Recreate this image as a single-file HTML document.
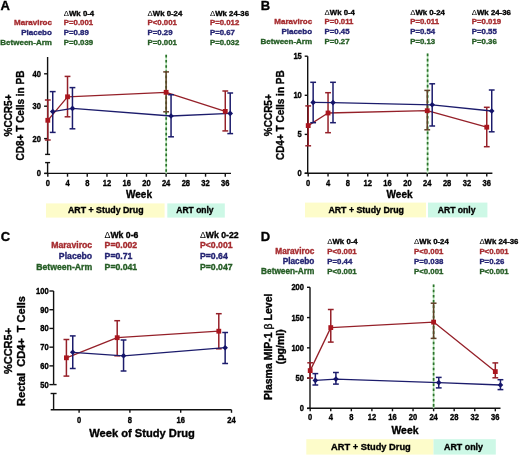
<!DOCTYPE html>
<html><head><meta charset="utf-8"><style>
html,body{margin:0;padding:0;background:#fff;}
svg{display:block;font-family:"Liberation Sans", sans-serif;will-change:transform;}
text{stroke-width:0.35px;paint-order:stroke;}
</style></head><body>
<svg width="520" height="456" viewBox="0 0 520 456">
<rect width="520" height="456" fill="#fff"/>
<text x="0.6" y="10.4" font-size="13" fill="#000" stroke="#000" text-anchor="start" font-weight="bold" >A</text>
<text x="51.9" y="25.4" font-size="8" fill="#a52a2e" stroke="#a52a2e" text-anchor="end" font-weight="bold" >Maraviroc</text>
<text x="51.9" y="35.2" font-size="8" fill="#232372" stroke="#232372" text-anchor="end" font-weight="bold" >Placebo</text>
<text x="51.9" y="44.9" font-size="8" fill="#245c24" stroke="#245c24" text-anchor="end" font-weight="bold" >Between-Arm</text>
<text x="63.8" y="16.3" font-size="7.8" font-weight="bold" fill="#000" stroke="#000"><tspan font-weight="normal" stroke-width="0">&#916;</tspan>Wk 0-4</text>
<text x="63.8" y="25.4" font-size="7.8" fill="#a52a2e" stroke="#a52a2e" text-anchor="start" font-weight="bold" >P=0.001</text>
<text x="63.8" y="35.2" font-size="7.8" fill="#232372" stroke="#232372" text-anchor="start" font-weight="bold" >P=0.89</text>
<text x="63.8" y="44.9" font-size="7.8" fill="#245c24" stroke="#245c24" text-anchor="start" font-weight="bold" >P=0.039</text>
<text x="147.6" y="16.3" font-size="7.8" font-weight="bold" fill="#000" stroke="#000"><tspan font-weight="normal" stroke-width="0">&#916;</tspan>Wk 0-24</text>
<text x="147.6" y="25.4" font-size="7.8" fill="#a52a2e" stroke="#a52a2e" text-anchor="start" font-weight="bold" >P&lt;0.001</text>
<text x="147.6" y="35.2" font-size="7.8" fill="#232372" stroke="#232372" text-anchor="start" font-weight="bold" >P=0.29</text>
<text x="147.6" y="44.9" font-size="7.8" fill="#245c24" stroke="#245c24" text-anchor="start" font-weight="bold" >P=0.001</text>
<text x="210.0" y="16.3" font-size="7.8" font-weight="bold" fill="#000" stroke="#000"><tspan font-weight="normal" stroke-width="0">&#916;</tspan>Wk 24-36</text>
<text x="210.0" y="25.4" font-size="7.8" fill="#a52a2e" stroke="#a52a2e" text-anchor="start" font-weight="bold" >P=0.012</text>
<text x="210.0" y="35.2" font-size="7.8" fill="#232372" stroke="#232372" text-anchor="start" font-weight="bold" >P=0.67</text>
<text x="210.0" y="44.9" font-size="7.8" fill="#245c24" stroke="#245c24" text-anchor="start" font-weight="bold" >P=0.032</text>
<line x1="47.6" y1="57" x2="47.6" y2="154.4" stroke="#111" stroke-width="1.4" />
<line x1="45.1" y1="154.4" x2="50.1" y2="154.4" stroke="#111" stroke-width="1.4" />
<line x1="45.1" y1="162.6" x2="50.1" y2="162.6" stroke="#111" stroke-width="1.4" />
<line x1="47.6" y1="162.6" x2="47.6" y2="173.4" stroke="#111" stroke-width="1.4" />
<line x1="44.1" y1="73.8" x2="47.6" y2="73.8" stroke="#111" stroke-width="1.4" />
<text transform="translate(41.00,76.82) scale(0.9,1)" font-size="8.4" fill="#000" stroke="#000" text-anchor="end" font-weight="bold">40</text>
<line x1="44.1" y1="106.2" x2="47.6" y2="106.2" stroke="#111" stroke-width="1.4" />
<text transform="translate(41.00,109.22) scale(0.9,1)" font-size="8.4" fill="#000" stroke="#000" text-anchor="end" font-weight="bold">30</text>
<line x1="44.1" y1="138.6" x2="47.6" y2="138.6" stroke="#111" stroke-width="1.4" />
<text transform="translate(41.00,141.62) scale(0.9,1)" font-size="8.4" fill="#000" stroke="#000" text-anchor="end" font-weight="bold">20</text>
<line x1="44.1" y1="173.4" x2="47.6" y2="173.4" stroke="#111" stroke-width="1.4" />
<text transform="translate(41.00,176.42) scale(0.9,1)" font-size="8.4" fill="#000" stroke="#000" text-anchor="end" font-weight="bold">0</text>
<line x1="44.6" y1="173.4" x2="231" y2="173.4" stroke="#111" stroke-width="1.4" />
<line x1="47.8" y1="173.4" x2="47.8" y2="176.70000000000002" stroke="#111" stroke-width="1.4" />
<text transform="translate(47.80,185.70) scale(0.9,1)" font-size="8.4" fill="#000" stroke="#000" text-anchor="middle" font-weight="bold">0</text>
<line x1="67.52" y1="173.4" x2="67.52" y2="176.70000000000002" stroke="#111" stroke-width="1.4" />
<text transform="translate(67.52,185.70) scale(0.9,1)" font-size="8.4" fill="#000" stroke="#000" text-anchor="middle" font-weight="bold">4</text>
<line x1="87.24" y1="173.4" x2="87.24" y2="176.70000000000002" stroke="#111" stroke-width="1.4" />
<text transform="translate(87.24,185.70) scale(0.9,1)" font-size="8.4" fill="#000" stroke="#000" text-anchor="middle" font-weight="bold">8</text>
<line x1="106.96" y1="173.4" x2="106.96" y2="176.70000000000002" stroke="#111" stroke-width="1.4" />
<text transform="translate(106.96,185.70) scale(0.9,1)" font-size="8.4" fill="#000" stroke="#000" text-anchor="middle" font-weight="bold">12</text>
<line x1="126.67999999999999" y1="173.4" x2="126.67999999999999" y2="176.70000000000002" stroke="#111" stroke-width="1.4" />
<text transform="translate(126.68,185.70) scale(0.9,1)" font-size="8.4" fill="#000" stroke="#000" text-anchor="middle" font-weight="bold">16</text>
<line x1="146.39999999999998" y1="173.4" x2="146.39999999999998" y2="176.70000000000002" stroke="#111" stroke-width="1.4" />
<text transform="translate(146.40,185.70) scale(0.9,1)" font-size="8.4" fill="#000" stroke="#000" text-anchor="middle" font-weight="bold">20</text>
<line x1="166.12" y1="173.4" x2="166.12" y2="176.70000000000002" stroke="#111" stroke-width="1.4" />
<text transform="translate(166.12,185.70) scale(0.9,1)" font-size="8.4" fill="#000" stroke="#000" text-anchor="middle" font-weight="bold">24</text>
<line x1="185.83999999999997" y1="173.4" x2="185.83999999999997" y2="176.70000000000002" stroke="#111" stroke-width="1.4" />
<text transform="translate(185.84,185.70) scale(0.9,1)" font-size="8.4" fill="#000" stroke="#000" text-anchor="middle" font-weight="bold">28</text>
<line x1="205.56" y1="173.4" x2="205.56" y2="176.70000000000002" stroke="#111" stroke-width="1.4" />
<text transform="translate(205.56,185.70) scale(0.9,1)" font-size="8.4" fill="#000" stroke="#000" text-anchor="middle" font-weight="bold">32</text>
<line x1="225.27999999999997" y1="173.4" x2="225.27999999999997" y2="176.70000000000002" stroke="#111" stroke-width="1.4" />
<text transform="translate(225.28,185.70) scale(0.9,1)" font-size="8.4" fill="#000" stroke="#000" text-anchor="middle" font-weight="bold">36</text>
<text x="126.0" y="198.1" font-size="10" fill="#000" stroke="#000" text-anchor="start" font-weight="bold" >Week</text>
<line x1="166.2" y1="54.8" x2="166.2" y2="173.4" stroke="#b4e4b4" stroke-width="1.6" />
<line x1="166.2" y1="54.8" x2="166.2" y2="173.4" stroke="#2a702a" stroke-width="1.7" stroke-dasharray="2.6 2.6"/>
<text transform="translate(11.8,115.5) rotate(-90)" x="0" y="0" font-size="10" font-weight="bold" text-anchor="middle" fill="#000" stroke="#000" xml:space="preserve">%CCR5+</text>
<text transform="translate(23.7,115.5) rotate(-90)" x="0" y="0" font-size="10" font-weight="bold" text-anchor="middle" fill="#000" stroke="#000" xml:space="preserve">CD8+ T Cells in PB</text>
<polyline points="47.80,120.30 67.52,96.80 166.12,92.30 225.28,111.40" fill="none" stroke="#952029" stroke-width="1.3" stroke-linejoin="round"/>
<line x1="47.8" y1="100" x2="47.8" y2="140" stroke="#952029" stroke-width="1.5" />
<line x1="44.9" y1="100" x2="50.699999999999996" y2="100" stroke="#952029" stroke-width="1.5" />
<line x1="44.9" y1="140" x2="50.699999999999996" y2="140" stroke="#952029" stroke-width="1.5" />
<line x1="67.52" y1="76.4" x2="67.52" y2="116.8" stroke="#952029" stroke-width="1.5" />
<line x1="64.61999999999999" y1="76.4" x2="70.42" y2="76.4" stroke="#952029" stroke-width="1.5" />
<line x1="64.61999999999999" y1="116.8" x2="70.42" y2="116.8" stroke="#952029" stroke-width="1.5" />
<line x1="166.12" y1="71.9" x2="166.12" y2="111.8" stroke="#624028" stroke-width="1.5" />
<line x1="163.22" y1="71.9" x2="169.02" y2="71.9" stroke="#624028" stroke-width="1.5" />
<line x1="163.22" y1="111.8" x2="169.02" y2="111.8" stroke="#624028" stroke-width="1.5" />
<line x1="225.27999999999997" y1="91" x2="225.27999999999997" y2="130.9" stroke="#952029" stroke-width="1.5" />
<line x1="222.37999999999997" y1="91" x2="228.17999999999998" y2="91" stroke="#952029" stroke-width="1.5" />
<line x1="222.37999999999997" y1="130.9" x2="228.17999999999998" y2="130.9" stroke="#952029" stroke-width="1.5" />
<polyline points="52.73,111.60 72.45,108.40 171.05,116.00 230.21,113.40" fill="none" stroke="#1c1c6c" stroke-width="1.3" stroke-linejoin="round"/>
<line x1="52.73" y1="91.6" x2="52.73" y2="132.4" stroke="#1c1c6c" stroke-width="1.5" />
<line x1="49.83" y1="91.6" x2="55.629999999999995" y2="91.6" stroke="#1c1c6c" stroke-width="1.5" />
<line x1="49.83" y1="132.4" x2="55.629999999999995" y2="132.4" stroke="#1c1c6c" stroke-width="1.5" />
<line x1="72.44999999999999" y1="87.6" x2="72.44999999999999" y2="128.8" stroke="#1c1c6c" stroke-width="1.5" />
<line x1="69.54999999999998" y1="87.6" x2="75.35" y2="87.6" stroke="#1c1c6c" stroke-width="1.5" />
<line x1="69.54999999999998" y1="128.8" x2="75.35" y2="128.8" stroke="#1c1c6c" stroke-width="1.5" />
<line x1="171.05" y1="94.7" x2="171.05" y2="136.8" stroke="#1c1c6c" stroke-width="1.5" />
<line x1="168.15" y1="94.7" x2="173.95000000000002" y2="94.7" stroke="#1c1c6c" stroke-width="1.5" />
<line x1="168.15" y1="136.8" x2="173.95000000000002" y2="136.8" stroke="#1c1c6c" stroke-width="1.5" />
<line x1="230.20999999999998" y1="93" x2="230.20999999999998" y2="133.6" stroke="#1c1c6c" stroke-width="1.5" />
<line x1="227.30999999999997" y1="93" x2="233.10999999999999" y2="93" stroke="#1c1c6c" stroke-width="1.5" />
<line x1="227.30999999999997" y1="133.6" x2="233.10999999999999" y2="133.6" stroke="#1c1c6c" stroke-width="1.5" />
<rect x="45.40" y="117.90" width="4.8" height="4.8" fill="#aa161e"/>
<rect x="65.12" y="94.40" width="4.8" height="4.8" fill="#aa161e"/>
<rect x="163.72" y="89.90" width="4.8" height="4.8" fill="#aa161e"/>
<rect x="222.88" y="109.00" width="4.8" height="4.8" fill="#aa161e"/>
<path d="M49.93,111.60 L52.73,108.80 L55.53,111.60 L52.73,114.40 Z" fill="#14146a"/>
<path d="M69.65,108.40 L72.45,105.60 L75.25,108.40 L72.45,111.20 Z" fill="#14146a"/>
<path d="M168.25,116.00 L171.05,113.20 L173.85,116.00 L171.05,118.80 Z" fill="#14146a"/>
<path d="M227.41,113.40 L230.21,110.60 L233.01,113.40 L230.21,116.20 Z" fill="#14146a"/>
<rect x="46.0" y="203.4" width="118.6" height="14.2" fill="#fdfcca"/>
<rect x="167.3" y="203.4" width="57.5" height="14.2" fill="#cdf8e6"/>
<text x="68.0" y="213.0" font-size="8.8" fill="#000" stroke="#000" text-anchor="start" font-weight="bold" >ART + Study Drug</text>
<text x="176.3" y="213.0" font-size="8.5" fill="#000" stroke="#000" text-anchor="start" font-weight="bold" >ART only</text>
<text x="260.8" y="10.3" font-size="13" fill="#000" stroke="#000" text-anchor="start" font-weight="bold" >B</text>
<text x="312.1" y="24.3" font-size="8" fill="#a52a2e" stroke="#a52a2e" text-anchor="end" font-weight="bold" >Maraviroc</text>
<text x="312.1" y="34.2" font-size="8" fill="#232372" stroke="#232372" text-anchor="end" font-weight="bold" >Placebo</text>
<text x="312.1" y="44.0" font-size="8" fill="#245c24" stroke="#245c24" text-anchor="end" font-weight="bold" >Between-Arm</text>
<text x="324.6" y="15.0" font-size="7.8" font-weight="bold" fill="#000" stroke="#000"><tspan font-weight="normal" stroke-width="0">&#916;</tspan>Wk 0-4</text>
<text x="324.6" y="24.3" font-size="7.8" fill="#a52a2e" stroke="#a52a2e" text-anchor="start" font-weight="bold" >P=0.011</text>
<text x="324.6" y="34.2" font-size="7.8" fill="#232372" stroke="#232372" text-anchor="start" font-weight="bold" >P=0.45</text>
<text x="324.6" y="44.0" font-size="7.8" fill="#245c24" stroke="#245c24" text-anchor="start" font-weight="bold" >P=0.27</text>
<text x="410.2" y="15.0" font-size="7.8" font-weight="bold" fill="#000" stroke="#000"><tspan font-weight="normal" stroke-width="0">&#916;</tspan>Wk 0-24</text>
<text x="410.2" y="24.3" font-size="7.8" fill="#a52a2e" stroke="#a52a2e" text-anchor="start" font-weight="bold" >P=0.011</text>
<text x="410.2" y="34.2" font-size="7.8" fill="#232372" stroke="#232372" text-anchor="start" font-weight="bold" >P=0.54</text>
<text x="410.2" y="44.0" font-size="7.8" fill="#245c24" stroke="#245c24" text-anchor="start" font-weight="bold" >P=0.13</text>
<text x="471.8" y="15.0" font-size="7.8" font-weight="bold" fill="#000" stroke="#000"><tspan font-weight="normal" stroke-width="0">&#916;</tspan>Wk 24-36</text>
<text x="471.8" y="24.3" font-size="7.8" fill="#a52a2e" stroke="#a52a2e" text-anchor="start" font-weight="bold" >P=0.019</text>
<text x="471.8" y="34.2" font-size="7.8" fill="#232372" stroke="#232372" text-anchor="start" font-weight="bold" >P=0.55</text>
<text x="471.8" y="44.0" font-size="7.8" fill="#245c24" stroke="#245c24" text-anchor="start" font-weight="bold" >P=0.36</text>
<line x1="307.7" y1="56.2" x2="307.7" y2="173.3" stroke="#111" stroke-width="1.4" />
<line x1="304.7" y1="56.2" x2="307.7" y2="56.2" stroke="#111" stroke-width="1.4" />
<text transform="translate(301.80,59.22) scale(0.9,1)" font-size="8.4" fill="#000" stroke="#000" text-anchor="end" font-weight="bold">15</text>
<line x1="304.7" y1="95.3" x2="307.7" y2="95.3" stroke="#111" stroke-width="1.4" />
<text transform="translate(301.80,98.32) scale(0.9,1)" font-size="8.4" fill="#000" stroke="#000" text-anchor="end" font-weight="bold">10</text>
<line x1="304.7" y1="134.4" x2="307.7" y2="134.4" stroke="#111" stroke-width="1.4" />
<text transform="translate(301.80,137.42) scale(0.9,1)" font-size="8.4" fill="#000" stroke="#000" text-anchor="end" font-weight="bold">5</text>
<line x1="304.7" y1="173.3" x2="307.7" y2="173.3" stroke="#111" stroke-width="1.4" />
<text transform="translate(301.80,176.32) scale(0.9,1)" font-size="8.4" fill="#000" stroke="#000" text-anchor="end" font-weight="bold">0</text>
<line x1="304.7" y1="173.3" x2="492.4" y2="173.3" stroke="#111" stroke-width="1.4" />
<line x1="308.2" y1="173.3" x2="308.2" y2="176.60000000000002" stroke="#111" stroke-width="1.4" />
<text transform="translate(308.20,185.70) scale(0.9,1)" font-size="8.4" fill="#000" stroke="#000" text-anchor="middle" font-weight="bold">0</text>
<line x1="328.03999999999996" y1="173.3" x2="328.03999999999996" y2="176.60000000000002" stroke="#111" stroke-width="1.4" />
<text transform="translate(328.04,185.70) scale(0.9,1)" font-size="8.4" fill="#000" stroke="#000" text-anchor="middle" font-weight="bold">4</text>
<line x1="347.88" y1="173.3" x2="347.88" y2="176.60000000000002" stroke="#111" stroke-width="1.4" />
<text transform="translate(347.88,185.70) scale(0.9,1)" font-size="8.4" fill="#000" stroke="#000" text-anchor="middle" font-weight="bold">8</text>
<line x1="367.71999999999997" y1="173.3" x2="367.71999999999997" y2="176.60000000000002" stroke="#111" stroke-width="1.4" />
<text transform="translate(367.72,185.70) scale(0.9,1)" font-size="8.4" fill="#000" stroke="#000" text-anchor="middle" font-weight="bold">12</text>
<line x1="387.56" y1="173.3" x2="387.56" y2="176.60000000000002" stroke="#111" stroke-width="1.4" />
<text transform="translate(387.56,185.70) scale(0.9,1)" font-size="8.4" fill="#000" stroke="#000" text-anchor="middle" font-weight="bold">16</text>
<line x1="407.4" y1="173.3" x2="407.4" y2="176.60000000000002" stroke="#111" stroke-width="1.4" />
<text transform="translate(407.40,185.70) scale(0.9,1)" font-size="8.4" fill="#000" stroke="#000" text-anchor="middle" font-weight="bold">20</text>
<line x1="427.24" y1="173.3" x2="427.24" y2="176.60000000000002" stroke="#111" stroke-width="1.4" />
<text transform="translate(427.24,185.70) scale(0.9,1)" font-size="8.4" fill="#000" stroke="#000" text-anchor="middle" font-weight="bold">24</text>
<line x1="447.08" y1="173.3" x2="447.08" y2="176.60000000000002" stroke="#111" stroke-width="1.4" />
<text transform="translate(447.08,185.70) scale(0.9,1)" font-size="8.4" fill="#000" stroke="#000" text-anchor="middle" font-weight="bold">28</text>
<line x1="466.91999999999996" y1="173.3" x2="466.91999999999996" y2="176.60000000000002" stroke="#111" stroke-width="1.4" />
<text transform="translate(466.92,185.70) scale(0.9,1)" font-size="8.4" fill="#000" stroke="#000" text-anchor="middle" font-weight="bold">32</text>
<line x1="486.76" y1="173.3" x2="486.76" y2="176.60000000000002" stroke="#111" stroke-width="1.4" />
<text transform="translate(486.76,185.70) scale(0.9,1)" font-size="8.4" fill="#000" stroke="#000" text-anchor="middle" font-weight="bold">36</text>
<text x="386.6" y="198.0" font-size="10" fill="#000" stroke="#000" text-anchor="start" font-weight="bold" >Week</text>
<line x1="427.6" y1="53.6" x2="427.6" y2="173.3" stroke="#b4e4b4" stroke-width="1.6" />
<line x1="427.6" y1="53.6" x2="427.6" y2="173.3" stroke="#2a702a" stroke-width="1.7" stroke-dasharray="2.6 2.6"/>
<text transform="translate(271.8,115.2) rotate(-90)" x="0" y="0" font-size="10" font-weight="bold" text-anchor="middle" fill="#000" stroke="#000" xml:space="preserve">%CCR5+</text>
<text transform="translate(283.5,115.2) rotate(-90)" x="0" y="0" font-size="10" font-weight="bold" text-anchor="middle" fill="#000" stroke="#000" xml:space="preserve">CD4+ T Cells in PB</text>
<polyline points="308.20,125.60 328.04,113.00 427.24,110.70 486.76,127.20" fill="none" stroke="#952029" stroke-width="1.3" stroke-linejoin="round"/>
<line x1="308.2" y1="105.9" x2="308.2" y2="145.8" stroke="#952029" stroke-width="1.5" />
<line x1="305.3" y1="105.9" x2="311.09999999999997" y2="105.9" stroke="#952029" stroke-width="1.5" />
<line x1="305.3" y1="145.8" x2="311.09999999999997" y2="145.8" stroke="#952029" stroke-width="1.5" />
<line x1="328.03999999999996" y1="92.7" x2="328.03999999999996" y2="132.7" stroke="#952029" stroke-width="1.5" />
<line x1="325.14" y1="92.7" x2="330.93999999999994" y2="92.7" stroke="#952029" stroke-width="1.5" />
<line x1="325.14" y1="132.7" x2="330.93999999999994" y2="132.7" stroke="#952029" stroke-width="1.5" />
<line x1="427.24" y1="90.4" x2="427.24" y2="129.8" stroke="#624028" stroke-width="1.5" />
<line x1="424.34000000000003" y1="90.4" x2="430.14" y2="90.4" stroke="#624028" stroke-width="1.5" />
<line x1="424.34000000000003" y1="129.8" x2="430.14" y2="129.8" stroke="#624028" stroke-width="1.5" />
<line x1="486.76" y1="107.3" x2="486.76" y2="146.7" stroke="#952029" stroke-width="1.5" />
<line x1="483.86" y1="107.3" x2="489.65999999999997" y2="107.3" stroke="#952029" stroke-width="1.5" />
<line x1="483.86" y1="146.7" x2="489.65999999999997" y2="146.7" stroke="#952029" stroke-width="1.5" />
<polyline points="313.16,102.40 333.00,102.60 432.20,104.80 491.72,111.00" fill="none" stroke="#1c1c6c" stroke-width="1.3" stroke-linejoin="round"/>
<line x1="313.15999999999997" y1="82.3" x2="313.15999999999997" y2="122.7" stroke="#1c1c6c" stroke-width="1.5" />
<line x1="310.26" y1="82.3" x2="316.05999999999995" y2="82.3" stroke="#1c1c6c" stroke-width="1.5" />
<line x1="310.26" y1="122.7" x2="316.05999999999995" y2="122.7" stroke="#1c1c6c" stroke-width="1.5" />
<line x1="333.0" y1="82.3" x2="333.0" y2="122.7" stroke="#1c1c6c" stroke-width="1.5" />
<line x1="330.1" y1="82.3" x2="335.9" y2="82.3" stroke="#1c1c6c" stroke-width="1.5" />
<line x1="330.1" y1="122.7" x2="335.9" y2="122.7" stroke="#1c1c6c" stroke-width="1.5" />
<line x1="432.2" y1="83.8" x2="432.2" y2="126" stroke="#1c1c6c" stroke-width="1.5" />
<line x1="429.3" y1="83.8" x2="435.09999999999997" y2="83.8" stroke="#1c1c6c" stroke-width="1.5" />
<line x1="429.3" y1="126" x2="435.09999999999997" y2="126" stroke="#1c1c6c" stroke-width="1.5" />
<line x1="491.72" y1="90" x2="491.72" y2="131.8" stroke="#1c1c6c" stroke-width="1.5" />
<line x1="488.82000000000005" y1="90" x2="494.62" y2="90" stroke="#1c1c6c" stroke-width="1.5" />
<line x1="488.82000000000005" y1="131.8" x2="494.62" y2="131.8" stroke="#1c1c6c" stroke-width="1.5" />
<rect x="305.80" y="123.20" width="4.8" height="4.8" fill="#aa161e"/>
<rect x="325.64" y="110.60" width="4.8" height="4.8" fill="#aa161e"/>
<rect x="424.84" y="108.30" width="4.8" height="4.8" fill="#aa161e"/>
<rect x="484.36" y="124.80" width="4.8" height="4.8" fill="#aa161e"/>
<path d="M310.36,102.40 L313.16,99.60 L315.96,102.40 L313.16,105.20 Z" fill="#14146a"/>
<path d="M330.20,102.60 L333.00,99.80 L335.80,102.60 L333.00,105.40 Z" fill="#14146a"/>
<path d="M429.40,104.80 L432.20,102.00 L435.00,104.80 L432.20,107.60 Z" fill="#14146a"/>
<path d="M488.92,111.00 L491.72,108.20 L494.52,111.00 L491.72,113.80 Z" fill="#14146a"/>
<rect x="305" y="202.6" width="121" height="14.8" fill="#fdfcca"/>
<rect x="428" y="202.6" width="59.4" height="14.8" fill="#cdf8e6"/>
<text x="328.4" y="213.3" font-size="8.8" fill="#000" stroke="#000" text-anchor="start" font-weight="bold" >ART + Study Drug</text>
<text x="437.7" y="213.1" font-size="8.65" fill="#000" stroke="#000" text-anchor="start" font-weight="bold" >ART only</text>
<text x="0.8" y="241.2" font-size="13" fill="#000" stroke="#000" text-anchor="start" font-weight="bold" >C</text>
<text x="92.2" y="248.4" font-size="8.7" fill="#a52a2e" stroke="#a52a2e" text-anchor="end" font-weight="bold" >Maraviroc</text>
<text x="92.2" y="259.2" font-size="8.7" fill="#232372" stroke="#232372" text-anchor="end" font-weight="bold" >Placebo</text>
<text x="92.2" y="270.0" font-size="8.7" fill="#245c24" stroke="#245c24" text-anchor="end" font-weight="bold" >Between-Arm</text>
<text x="104.6" y="238.0" font-size="8.7" font-weight="bold" fill="#000" stroke="#000"><tspan font-weight="normal" stroke-width="0">&#916;</tspan>Wk 0-6</text>
<text x="104.6" y="248.4" font-size="8.7" fill="#a52a2e" stroke="#a52a2e" text-anchor="start" font-weight="bold" >P=0.002</text>
<text x="104.6" y="259.2" font-size="8.7" fill="#232372" stroke="#232372" text-anchor="start" font-weight="bold" >P=0.71</text>
<text x="104.6" y="270.0" font-size="8.7" fill="#245c24" stroke="#245c24" text-anchor="start" font-weight="bold" >P=0.041</text>
<text x="200.0" y="238.0" font-size="8.7" font-weight="bold" fill="#000" stroke="#000"><tspan font-weight="normal" stroke-width="0">&#916;</tspan>Wk 0-22</text>
<text x="200.0" y="248.4" font-size="8.7" fill="#a52a2e" stroke="#a52a2e" text-anchor="start" font-weight="bold" >P&lt;0.001</text>
<text x="200.0" y="259.2" font-size="8.7" fill="#232372" stroke="#232372" text-anchor="start" font-weight="bold" >P=0.64</text>
<text x="200.0" y="270.0" font-size="8.7" fill="#245c24" stroke="#245c24" text-anchor="start" font-weight="bold" >P=0.047</text>
<line x1="53.6" y1="291" x2="53.6" y2="384.6" stroke="#111" stroke-width="1.4" />
<line x1="53.6" y1="384.6" x2="56.6" y2="384.6" stroke="#111" stroke-width="1.4" />
<line x1="50.6" y1="393.5" x2="56.6" y2="393.5" stroke="#111" stroke-width="1.4" />
<line x1="53.6" y1="393.5" x2="53.6" y2="409.8" stroke="#111" stroke-width="1.4" />
<line x1="49.4" y1="291.0" x2="53.6" y2="291.0" stroke="#111" stroke-width="1.4" />
<text transform="translate(48.70,294.02) scale(0.9,1)" font-size="8.4" fill="#000" stroke="#000" text-anchor="end" font-weight="bold">100</text>
<line x1="49.4" y1="309.72" x2="53.6" y2="309.72" stroke="#111" stroke-width="1.4" />
<text transform="translate(48.70,312.74) scale(0.9,1)" font-size="8.4" fill="#000" stroke="#000" text-anchor="end" font-weight="bold">90</text>
<line x1="49.4" y1="328.44" x2="53.6" y2="328.44" stroke="#111" stroke-width="1.4" />
<text transform="translate(48.70,331.46) scale(0.9,1)" font-size="8.4" fill="#000" stroke="#000" text-anchor="end" font-weight="bold">80</text>
<line x1="49.4" y1="347.16" x2="53.6" y2="347.16" stroke="#111" stroke-width="1.4" />
<text transform="translate(48.70,350.18) scale(0.9,1)" font-size="8.4" fill="#000" stroke="#000" text-anchor="end" font-weight="bold">70</text>
<line x1="49.4" y1="365.88" x2="53.6" y2="365.88" stroke="#111" stroke-width="1.4" />
<text transform="translate(48.70,368.90) scale(0.9,1)" font-size="8.4" fill="#000" stroke="#000" text-anchor="end" font-weight="bold">60</text>
<line x1="49.4" y1="384.6" x2="53.6" y2="384.6" stroke="#111" stroke-width="1.4" />
<text transform="translate(48.70,387.62) scale(0.9,1)" font-size="8.4" fill="#000" stroke="#000" text-anchor="end" font-weight="bold">50</text>
<line x1="50.7" y1="409.8" x2="231.5" y2="409.8" stroke="#111" stroke-width="1.4" />
<line x1="79.1" y1="409.8" x2="79.1" y2="412.8" stroke="#111" stroke-width="1.4" />
<text transform="translate(79.10,422.60) scale(0.9,1)" font-size="8.4" fill="#000" stroke="#000" text-anchor="middle" font-weight="bold">0</text>
<line x1="129.89999999999998" y1="409.8" x2="129.89999999999998" y2="412.8" stroke="#111" stroke-width="1.4" />
<text transform="translate(129.90,422.60) scale(0.9,1)" font-size="8.4" fill="#000" stroke="#000" text-anchor="middle" font-weight="bold">8</text>
<line x1="180.7" y1="409.8" x2="180.7" y2="412.8" stroke="#111" stroke-width="1.4" />
<text transform="translate(180.70,422.60) scale(0.9,1)" font-size="8.4" fill="#000" stroke="#000" text-anchor="middle" font-weight="bold">16</text>
<line x1="231.49999999999997" y1="409.8" x2="231.49999999999997" y2="412.8" stroke="#111" stroke-width="1.4" />
<text transform="translate(231.50,422.60) scale(0.9,1)" font-size="8.4" fill="#000" stroke="#000" text-anchor="middle" font-weight="bold">24</text>
<text x="89.2" y="436.9" font-size="11.15" fill="#000" stroke="#000" text-anchor="start" font-weight="bold" >Week of Study Drug</text>
<text transform="translate(11.6,351) rotate(-90)" x="0" y="0" font-size="11" font-weight="bold" text-anchor="middle" fill="#000" stroke="#000" xml:space="preserve">%CCR5+</text>
<text transform="translate(25.4,351) rotate(-90)" x="0" y="0" font-size="11" font-weight="bold" text-anchor="middle" fill="#000" stroke="#000" xml:space="preserve">Rectal  CD4+  T Cells</text>
<polyline points="66.40,357.80 117.20,337.70 218.80,331.20" fill="none" stroke="#952029" stroke-width="1.3" stroke-linejoin="round"/>
<line x1="66.39999999999999" y1="339.5" x2="66.39999999999999" y2="376.1" stroke="#952029" stroke-width="1.5" />
<line x1="63.49999999999999" y1="339.5" x2="69.3" y2="339.5" stroke="#952029" stroke-width="1.5" />
<line x1="63.49999999999999" y1="376.1" x2="69.3" y2="376.1" stroke="#952029" stroke-width="1.5" />
<line x1="117.19999999999999" y1="320.7" x2="117.19999999999999" y2="355.8" stroke="#952029" stroke-width="1.5" />
<line x1="114.29999999999998" y1="320.7" x2="120.1" y2="320.7" stroke="#952029" stroke-width="1.5" />
<line x1="114.29999999999998" y1="355.8" x2="120.1" y2="355.8" stroke="#952029" stroke-width="1.5" />
<line x1="218.79999999999998" y1="313.7" x2="218.79999999999998" y2="348.8" stroke="#952029" stroke-width="1.5" />
<line x1="215.89999999999998" y1="313.7" x2="221.7" y2="313.7" stroke="#952029" stroke-width="1.5" />
<line x1="215.89999999999998" y1="348.8" x2="221.7" y2="348.8" stroke="#952029" stroke-width="1.5" />
<polyline points="72.75,352.30 123.55,355.80 225.15,347.70" fill="none" stroke="#1c1c6c" stroke-width="1.3" stroke-linejoin="round"/>
<line x1="72.75" y1="335.9" x2="72.75" y2="368.5" stroke="#1c1c6c" stroke-width="1.5" />
<line x1="69.85" y1="335.9" x2="75.65" y2="335.9" stroke="#1c1c6c" stroke-width="1.5" />
<line x1="69.85" y1="368.5" x2="75.65" y2="368.5" stroke="#1c1c6c" stroke-width="1.5" />
<line x1="123.54999999999998" y1="340" x2="123.54999999999998" y2="371" stroke="#1c1c6c" stroke-width="1.5" />
<line x1="120.64999999999998" y1="340" x2="126.44999999999999" y2="340" stroke="#1c1c6c" stroke-width="1.5" />
<line x1="120.64999999999998" y1="371" x2="126.44999999999999" y2="371" stroke="#1c1c6c" stroke-width="1.5" />
<line x1="225.14999999999998" y1="332.5" x2="225.14999999999998" y2="363.5" stroke="#1c1c6c" stroke-width="1.5" />
<line x1="222.24999999999997" y1="332.5" x2="228.04999999999998" y2="332.5" stroke="#1c1c6c" stroke-width="1.5" />
<line x1="222.24999999999997" y1="363.5" x2="228.04999999999998" y2="363.5" stroke="#1c1c6c" stroke-width="1.5" />
<rect x="64.00" y="355.40" width="4.8" height="4.8" fill="#aa161e"/>
<rect x="114.80" y="335.30" width="4.8" height="4.8" fill="#aa161e"/>
<rect x="216.40" y="328.80" width="4.8" height="4.8" fill="#aa161e"/>
<path d="M69.95,352.30 L72.75,349.50 L75.55,352.30 L72.75,355.10 Z" fill="#14146a"/>
<path d="M120.75,355.80 L123.55,353.00 L126.35,355.80 L123.55,358.60 Z" fill="#14146a"/>
<path d="M222.35,347.70 L225.15,344.90 L227.95,347.70 L225.15,350.50 Z" fill="#14146a"/>
<text x="260.8" y="241.2" font-size="13" fill="#000" stroke="#000" text-anchor="start" font-weight="bold" >D</text>
<text x="314.3" y="254.0" font-size="8.25" fill="#a52a2e" stroke="#a52a2e" text-anchor="end" font-weight="bold" >Maraviroc</text>
<text x="314.3" y="263.9" font-size="8.25" fill="#232372" stroke="#232372" text-anchor="end" font-weight="bold" >Placebo</text>
<text x="314.3" y="273.8" font-size="8.25" fill="#245c24" stroke="#245c24" text-anchor="end" font-weight="bold" >Between-Arm</text>
<text x="327.3" y="244.2" font-size="7.8" font-weight="bold" fill="#000" stroke="#000"><tspan font-weight="normal" stroke-width="0">&#916;</tspan>Wk 0-4</text>
<text x="327.3" y="254.0" font-size="7.8" fill="#a52a2e" stroke="#a52a2e" text-anchor="start" font-weight="bold" >P&lt;0.001</text>
<text x="327.3" y="263.9" font-size="7.8" fill="#232372" stroke="#232372" text-anchor="start" font-weight="bold" >P=0.44</text>
<text x="327.3" y="273.8" font-size="7.8" fill="#245c24" stroke="#245c24" text-anchor="start" font-weight="bold" >P&lt;0.001</text>
<text x="414.1" y="244.2" font-size="7.8" font-weight="bold" fill="#000" stroke="#000"><tspan font-weight="normal" stroke-width="0">&#916;</tspan>Wk 0-24</text>
<text x="414.1" y="254.0" font-size="7.8" fill="#a52a2e" stroke="#a52a2e" text-anchor="start" font-weight="bold" >P&lt;0.001</text>
<text x="414.1" y="263.9" font-size="7.8" fill="#232372" stroke="#232372" text-anchor="start" font-weight="bold" >P=0.038</text>
<text x="414.1" y="273.8" font-size="7.8" fill="#245c24" stroke="#245c24" text-anchor="start" font-weight="bold" >P&lt;0.001</text>
<text x="479.4" y="244.2" font-size="7.8" font-weight="bold" fill="#000" stroke="#000"><tspan font-weight="normal" stroke-width="0">&#916;</tspan>Wk 24-36</text>
<text x="479.4" y="254.0" font-size="7.8" fill="#a52a2e" stroke="#a52a2e" text-anchor="start" font-weight="bold" >P&lt;0.001</text>
<text x="479.4" y="263.9" font-size="7.8" fill="#232372" stroke="#232372" text-anchor="start" font-weight="bold" >P=0.26</text>
<text x="479.4" y="273.8" font-size="7.8" fill="#245c24" stroke="#245c24" text-anchor="start" font-weight="bold" >P&lt;0.001</text>
<line x1="310.0" y1="287.3" x2="310.0" y2="408.3" stroke="#111" stroke-width="1.4" />
<line x1="307.0" y1="408.4" x2="310.0" y2="408.4" stroke="#111" stroke-width="1.4" />
<text transform="translate(304.00,411.42) scale(0.9,1)" font-size="8.4" fill="#000" stroke="#000" text-anchor="end" font-weight="bold">0</text>
<line x1="307.0" y1="378.125" x2="310.0" y2="378.125" stroke="#111" stroke-width="1.4" />
<text transform="translate(304.00,381.15) scale(0.9,1)" font-size="8.4" fill="#000" stroke="#000" text-anchor="end" font-weight="bold">50</text>
<line x1="307.0" y1="347.84999999999997" x2="310.0" y2="347.84999999999997" stroke="#111" stroke-width="1.4" />
<text transform="translate(304.00,350.87) scale(0.9,1)" font-size="8.4" fill="#000" stroke="#000" text-anchor="end" font-weight="bold">100</text>
<line x1="307.0" y1="317.575" x2="310.0" y2="317.575" stroke="#111" stroke-width="1.4" />
<text transform="translate(304.00,320.60) scale(0.9,1)" font-size="8.4" fill="#000" stroke="#000" text-anchor="end" font-weight="bold">150</text>
<line x1="307.0" y1="287.29999999999995" x2="310.0" y2="287.29999999999995" stroke="#111" stroke-width="1.4" />
<text transform="translate(304.00,290.32) scale(0.9,1)" font-size="8.4" fill="#000" stroke="#000" text-anchor="end" font-weight="bold">200</text>
<line x1="307.2" y1="408.3" x2="500.5" y2="408.3" stroke="#111" stroke-width="1.4" />
<line x1="310.2" y1="408.3" x2="310.2" y2="411.3" stroke="#111" stroke-width="1.4" />
<text transform="translate(310.20,420.40) scale(0.9,1)" font-size="8.4" fill="#000" stroke="#000" text-anchor="middle" font-weight="bold">0</text>
<line x1="330.768" y1="408.3" x2="330.768" y2="411.3" stroke="#111" stroke-width="1.4" />
<text transform="translate(330.77,420.40) scale(0.9,1)" font-size="8.4" fill="#000" stroke="#000" text-anchor="middle" font-weight="bold">4</text>
<line x1="351.336" y1="408.3" x2="351.336" y2="411.3" stroke="#111" stroke-width="1.4" />
<text transform="translate(351.34,420.40) scale(0.9,1)" font-size="8.4" fill="#000" stroke="#000" text-anchor="middle" font-weight="bold">8</text>
<line x1="371.904" y1="408.3" x2="371.904" y2="411.3" stroke="#111" stroke-width="1.4" />
<text transform="translate(371.90,420.40) scale(0.9,1)" font-size="8.4" fill="#000" stroke="#000" text-anchor="middle" font-weight="bold">12</text>
<line x1="392.472" y1="408.3" x2="392.472" y2="411.3" stroke="#111" stroke-width="1.4" />
<text transform="translate(392.47,420.40) scale(0.9,1)" font-size="8.4" fill="#000" stroke="#000" text-anchor="middle" font-weight="bold">16</text>
<line x1="413.03999999999996" y1="408.3" x2="413.03999999999996" y2="411.3" stroke="#111" stroke-width="1.4" />
<text transform="translate(413.04,420.40) scale(0.9,1)" font-size="8.4" fill="#000" stroke="#000" text-anchor="middle" font-weight="bold">20</text>
<line x1="433.608" y1="408.3" x2="433.608" y2="411.3" stroke="#111" stroke-width="1.4" />
<text transform="translate(433.61,420.40) scale(0.9,1)" font-size="8.4" fill="#000" stroke="#000" text-anchor="middle" font-weight="bold">24</text>
<line x1="454.176" y1="408.3" x2="454.176" y2="411.3" stroke="#111" stroke-width="1.4" />
<text transform="translate(454.18,420.40) scale(0.9,1)" font-size="8.4" fill="#000" stroke="#000" text-anchor="middle" font-weight="bold">28</text>
<line x1="474.744" y1="408.3" x2="474.744" y2="411.3" stroke="#111" stroke-width="1.4" />
<text transform="translate(474.74,420.40) scale(0.9,1)" font-size="8.4" fill="#000" stroke="#000" text-anchor="middle" font-weight="bold">32</text>
<line x1="495.312" y1="408.3" x2="495.312" y2="411.3" stroke="#111" stroke-width="1.4" />
<text transform="translate(495.31,420.40) scale(0.9,1)" font-size="8.4" fill="#000" stroke="#000" text-anchor="middle" font-weight="bold">36</text>
<text x="391.5" y="433.8" font-size="10.4" fill="#000" stroke="#000" text-anchor="start" font-weight="bold" >Week</text>
<line x1="433.6" y1="284.5" x2="433.6" y2="408.3" stroke="#b4e4b4" stroke-width="1.6" />
<line x1="433.6" y1="284.5" x2="433.6" y2="408.3" stroke="#2a702a" stroke-width="1.7" stroke-dasharray="2.6 2.6"/>
<text transform="translate(271.9,346.8) rotate(-90)" x="0" y="0" font-size="10.5" font-weight="bold" text-anchor="middle" fill="#000" stroke="#000" xml:space="preserve">Plasma MIP-1<tspan font-weight="normal"> &#946; </tspan>Level</text>
<text transform="translate(284.0,346.8) rotate(-90)" x="0" y="0" font-size="10.5" font-weight="bold" text-anchor="middle" fill="#000" stroke="#000" xml:space="preserve">(pg/ml)</text>
<polyline points="310.20,370.60 330.77,327.60 433.61,322.10 495.31,371.60" fill="none" stroke="#952029" stroke-width="1.3" stroke-linejoin="round"/>
<line x1="310.2" y1="362.8" x2="310.2" y2="378" stroke="#952029" stroke-width="1.5" />
<line x1="307.3" y1="362.8" x2="313.09999999999997" y2="362.8" stroke="#952029" stroke-width="1.5" />
<line x1="307.3" y1="378" x2="313.09999999999997" y2="378" stroke="#952029" stroke-width="1.5" />
<line x1="330.768" y1="309.5" x2="330.768" y2="342.1" stroke="#952029" stroke-width="1.5" />
<line x1="327.868" y1="309.5" x2="333.66799999999995" y2="309.5" stroke="#952029" stroke-width="1.5" />
<line x1="327.868" y1="342.1" x2="333.66799999999995" y2="342.1" stroke="#952029" stroke-width="1.5" />
<line x1="433.608" y1="303.2" x2="433.608" y2="338.4" stroke="#624028" stroke-width="1.5" />
<line x1="430.708" y1="303.2" x2="436.508" y2="303.2" stroke="#624028" stroke-width="1.5" />
<line x1="430.708" y1="338.4" x2="436.508" y2="338.4" stroke="#624028" stroke-width="1.5" />
<line x1="495.312" y1="362.9" x2="495.312" y2="377.8" stroke="#952029" stroke-width="1.5" />
<line x1="492.41200000000003" y1="362.9" x2="498.212" y2="362.9" stroke="#952029" stroke-width="1.5" />
<line x1="492.41200000000003" y1="377.8" x2="498.212" y2="377.8" stroke="#952029" stroke-width="1.5" />
<polyline points="315.34,380.40 335.91,379.10 438.75,382.60 500.45,385.00" fill="none" stroke="#1c1c6c" stroke-width="1.3" stroke-linejoin="round"/>
<line x1="315.342" y1="373.6" x2="315.342" y2="385" stroke="#1c1c6c" stroke-width="1.5" />
<line x1="312.442" y1="373.6" x2="318.24199999999996" y2="373.6" stroke="#1c1c6c" stroke-width="1.5" />
<line x1="312.442" y1="385" x2="318.24199999999996" y2="385" stroke="#1c1c6c" stroke-width="1.5" />
<line x1="335.90999999999997" y1="372.5" x2="335.90999999999997" y2="384.1" stroke="#1c1c6c" stroke-width="1.5" />
<line x1="333.01" y1="372.5" x2="338.80999999999995" y2="372.5" stroke="#1c1c6c" stroke-width="1.5" />
<line x1="333.01" y1="384.1" x2="338.80999999999995" y2="384.1" stroke="#1c1c6c" stroke-width="1.5" />
<line x1="438.75" y1="377.4" x2="438.75" y2="387.9" stroke="#1c1c6c" stroke-width="1.5" />
<line x1="435.85" y1="377.4" x2="441.65" y2="377.4" stroke="#1c1c6c" stroke-width="1.5" />
<line x1="435.85" y1="387.9" x2="441.65" y2="387.9" stroke="#1c1c6c" stroke-width="1.5" />
<line x1="500.454" y1="379.7" x2="500.454" y2="389.6" stroke="#1c1c6c" stroke-width="1.5" />
<line x1="497.55400000000003" y1="379.7" x2="503.354" y2="379.7" stroke="#1c1c6c" stroke-width="1.5" />
<line x1="497.55400000000003" y1="389.6" x2="503.354" y2="389.6" stroke="#1c1c6c" stroke-width="1.5" />
<rect x="307.80" y="368.20" width="4.8" height="4.8" fill="#aa161e"/>
<rect x="328.37" y="325.20" width="4.8" height="4.8" fill="#aa161e"/>
<rect x="431.21" y="319.70" width="4.8" height="4.8" fill="#aa161e"/>
<rect x="492.91" y="369.20" width="4.8" height="4.8" fill="#aa161e"/>
<path d="M312.54,380.40 L315.34,377.60 L318.14,380.40 L315.34,383.20 Z" fill="#14146a"/>
<path d="M333.11,379.10 L335.91,376.30 L338.71,379.10 L335.91,381.90 Z" fill="#14146a"/>
<path d="M435.95,382.60 L438.75,379.80 L441.55,382.60 L438.75,385.40 Z" fill="#14146a"/>
<path d="M497.65,385.00 L500.45,382.20 L503.25,385.00 L500.45,387.80 Z" fill="#14146a"/>
<rect x="306.3" y="439.2" width="127.2" height="15.4" fill="#fdfcca"/>
<rect x="433.5" y="439.2" width="62.3" height="15.4" fill="#cdf8e6"/>
<text x="331.0" y="449.6" font-size="9.3" fill="#000" stroke="#000" text-anchor="start" font-weight="bold" >ART + Study Drug</text>
<text x="444.0" y="449.6" font-size="8.9" fill="#000" stroke="#000" text-anchor="start" font-weight="bold" >ART only</text>
</svg>
</body></html>
